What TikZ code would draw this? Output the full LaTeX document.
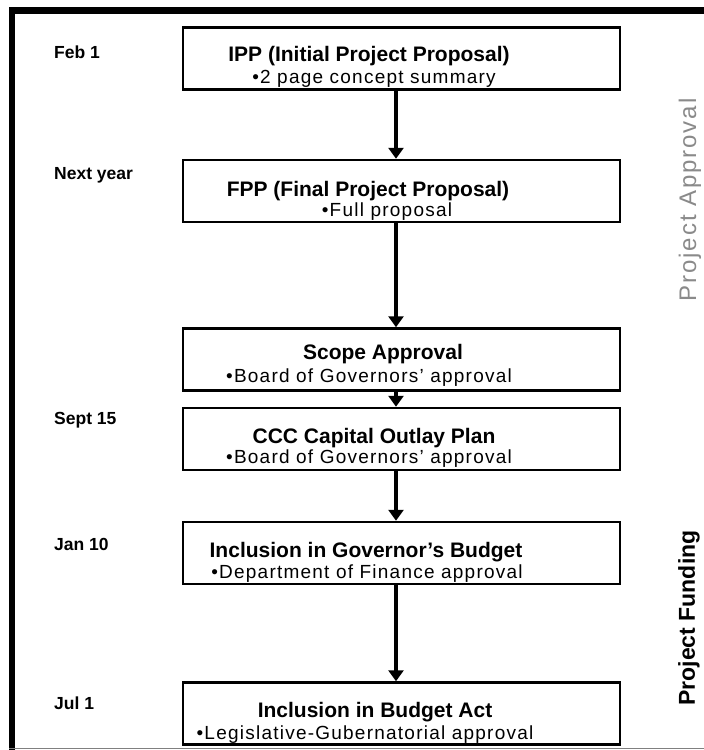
\documentclass[tikz,border=0pt]{standalone}
\usepackage{fontspec}
\setmainfont{Liberation Sans}
\newfontfamily\spacedfont[LetterSpace=8]{Liberation Sans}
\newfontfamily\subfont[LetterSpace=6.5]{Liberation Sans}
\usetikzlibrary{arrows.meta}
\definecolor{labelgray}{HTML}{8A8A8A}
\begin{document}
\begin{tikzpicture}[x=1pt,y=-1pt,
  box/.style={draw=black,line width=2.5pt,minimum width=437pt,minimum height=62pt,inner sep=0pt,fill=white},
  ttl/.style={font=\fontsize{21}{24}\selectfont\bfseries,inner sep=0pt,anchor=base},
  subt/.style={font=\subfont\fontsize{19}{22}\selectfont,inner sep=0pt,anchor=base},
  datelbl/.style={font=\fontsize{17.5}{20}\selectfont\bfseries,inner sep=0pt,anchor=west},
  flow/.style={line width=4pt,-{Triangle[width=15pt,length=11pt]}}]
\useasboundingbox[fill=white] (0,0) rectangle (704,750);
% frame
\draw[line width=7pt] (9,10.5) -- (704,10.5);
\draw[line width=6pt] (12,7) -- (12,750);
\draw[gray,line width=1.5pt] (9,748.5) -- (704,748.5);
% boxes
\node[box] (ipp) at (401.5,58.5) {};
\node[box] (fpp) at (401.5,191) {};
\node[box] (scope) at (401.5,359.5) {};
\node[box] (ccc) at (401.5,439) {};
\node[box] (gov) at (401.5,553) {};
\node[box] (act) at (401.5,713.5) {};
% texts
\node[ttl] (ippt) at (369,61.5) {IPP (Initial Project Proposal)};
\node[subt] (ipps) at (374,83.5) {•2 page concept summary};
\node[ttl] (fppt) at (368,196.5) {FPP (Final Project Proposal)};
\node[subt] (fpps) at (387,216.5) {•Full proposal};
\node[ttl] (scopet) at (383,359.5) {Scope Approval};
\node[subt] (scopes) at (369,382.5) {•Board of Governors’ approval};
\node[ttl] (ccct) at (374,443.5) {CCC Capital Outlay Plan};
\node[subt] (cccs) at (369,463.5) {•Board of Governors’ approval};
\node[ttl] (govt) at (366,557.5) {Inclusion in Governor’s Budget};
\node[subt] (govs) at (367,578.5) {•Department of Finance approval};
\node[ttl] (actt) at (375,717.5) {Inclusion in Budget Act};
\node[subt] (acts) at (365,739.5) {•Legislative-Gubernatorial approval};
% arrows
\draw[flow] ([xshift=-5.5pt]ipp.south) -- ([xshift=-5.5pt]fpp.north);
\draw[flow] ([xshift=-5.5pt]fpp.south) -- ([xshift=-5.5pt]scope.north);
\draw[flow] ([xshift=-5.5pt]scope.south) -- ([xshift=-5.5pt]ccc.north);
\draw[flow] ([xshift=-5.5pt]ccc.south) -- ([xshift=-5.5pt]gov.north);
\draw[flow] ([xshift=-5.5pt]gov.south) -- ([xshift=-5.5pt]act.north);
% dates
\node[datelbl] (d1) at (54,52) {Feb 1};
\node[datelbl] (d2) at (54,175) {Next year};
\node[datelbl] (d3) at (54,420) {Sept 15};
\node[datelbl] (d4) at (54,544) {Jan 10};
\node[datelbl] (d5) at (54,703) {Jul 1};
% side labels
\node[rotate=90,inner sep=0pt,text=labelgray,font=\spacedfont\fontsize{24}{28}\selectfont] (pa) at (690,200) {Project Approval};
\node[rotate=90,inner sep=0pt,font=\fontsize{23}{26}\selectfont\bfseries] (pf) at (689,618) {Project Funding};
\end{tikzpicture}
\end{document}
